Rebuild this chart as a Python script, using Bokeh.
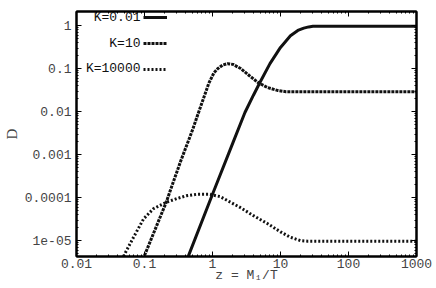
from bokeh.plotting import figure
from bokeh.models import LogAxis, FixedTicker, Range1d, Legend, LegendItem, Label
from bokeh.embed import file_html
from bokeh.resources import INLINE

# ---- data ----
z_k001 = [0.44, 1.0, 2.0, 3.0, 4.0, 5.0, 7.0, 10.0, 14.0, 18.0, 22.0, 26.0, 30.0, 1000.0]
d_k001 = [4.3e-6, 1.2e-4, 1.9e-3, 9.5e-3, 0.024, 0.048, 0.13, 0.31, 0.58, 0.77, 0.87, 0.93, 0.96, 0.96]

z_k10 = [0.1, 0.21, 0.27, 0.34, 0.51, 0.6, 0.7, 0.88, 1.05, 1.2, 1.4, 1.67, 2.0, 2.6, 3.5, 4.7, 6.5, 9.0, 12.0, 1000.0]
d_k10 = [4.5e-6, 8e-5, 2.5e-4, 7e-4, 3.8e-3, 8e-3, 0.016, 0.045, 0.08, 0.1, 0.12, 0.13, 0.125, 0.1, 0.068, 0.047, 0.036, 0.031, 0.029, 0.029]

z_k1e4 = [0.049, 0.069, 0.097, 0.135, 0.21, 0.3, 0.41, 0.6, 0.9, 1.3, 2.6, 4.0, 6.4, 10.0, 13.9, 19.6, 25.0, 1000.0]
d_k1e4 = [4.3e-6, 1.2e-5, 3.2e-5, 5.5e-5, 7.8e-5, 9.5e-5, 1.1e-4, 1.2e-4, 1.2e-4, 1.05e-4, 5.8e-5, 3.8e-5, 2.5e-5, 1.6e-5, 1.2e-5, 1.0e-5, 0.97e-5, 0.97e-5]

series_labels = ["K=0.01", "K=10", "K=10000"]

xtick_vals = [0.01, 0.1, 1, 10, 100, 1000]
xtick_labels = ["0.01", "0.1", "1", "10", "100", "1000"]
ytick_vals = [1e-5, 1e-4, 1e-3, 0.01, 0.1, 1]
ytick_labels = ["1e-05", "0.0001", "0.001", "0.01", "0.1", "1"]

MONO = "Liberation Mono"

p = figure(width=436, height=288, x_axis_type="log", y_axis_type="log",
           x_range=Range1d(0.01, 1000), y_range=Range1d(4.27e-6, 2.12),
           output_backend="svg", toolbar_location=None,
           min_border_left=76, min_border_top=11, min_border_right=20, min_border_bottom=32)
p.xgrid.visible = False
p.ygrid.visible = False
p.outline_line_color = "black"
p.outline_line_width = 2
p.background_fill_color = "white"
p.border_fill_color = "white"

def minors(vals):
    out = []
    for v in vals[:-1]:
        out += [v * k for k in range(2, 10)]
    return out

def style(ax):
    ax.major_tick_in = 5
    ax.major_tick_out = 0
    ax.minor_tick_in = 2
    ax.minor_tick_out = 0
    ax.axis_line_color = "black"
    ax.axis_line_width = 2
    ax.major_tick_line_color = "black"
    ax.minor_tick_line_color = "black"
    ax.major_tick_line_width = 1
    ax.minor_tick_line_width = 1

xa = p.xaxis[0]
xa.ticker = FixedTicker(ticks=xtick_vals, minor_ticks=minors(xtick_vals))
xa.major_label_overrides = dict(zip(xtick_vals, xtick_labels))
xa.major_label_text_font = MONO
xa.major_label_text_font_size = "13px"
xa.major_label_standoff = 2
xa.axis_label = "z = M\u2081/T"
xa.axis_label_text_font = MONO
xa.axis_label_text_font_size = "13px"
xa.axis_label_text_font_style = "normal"
xa.axis_label_standoff = -3
style(xa)

ya = p.yaxis[0]
ya.ticker = FixedTicker(ticks=ytick_vals, minor_ticks=minors([1e-6] + ytick_vals))
ya.major_label_overrides = dict(zip(ytick_vals, ytick_labels))
ya.major_label_text_font = MONO
ya.major_label_text_font_size = "13px"
ya.major_label_standoff = 5
ya.axis_label = "D"
ya.axis_label_text_font = "Liberation Serif"
ya.axis_label_text_font_size = "15px"
ya.axis_label_text_font_style = "normal"
ya.axis_label_standoff = 2
style(ya)

top = LogAxis(ticker=FixedTicker(ticks=xtick_vals, minor_ticks=minors(xtick_vals)),
              major_label_overrides={v: "" for v in xtick_vals},
              major_label_standoff=0)
right = LogAxis(ticker=FixedTicker(ticks=ytick_vals, minor_ticks=minors([1e-6] + ytick_vals)),
                major_label_overrides={v: "" for v in ytick_vals},
                major_label_standoff=0)
style(top)
style(right)
p.add_layout(top, "above")
p.add_layout(right, "right")

r1 = p.line(z_k001, d_k001, line_color="#111111", line_width=3)
r2 = p.line(z_k10, d_k10, line_color="#111111", line_width=3, line_dash="3 1")
r3 = p.line(z_k1e4, d_k1e4, line_color="#111111", line_width=3, line_dash="2 2")

# legend samples (glyph part) to the right of the labels, as in the reference
leg = Legend(items=[LegendItem(label=lab, renderers=[r]) for lab, r in zip(series_labels, (r1, r2, r3))],
             location=(67, 177), padding=0, margin=0, spacing=6,
             glyph_width=24, glyph_height=20, label_height=20,
             label_standoff=2, label_text_font_size="10px", label_text_alpha=0,
             background_fill_alpha=0, border_line_alpha=0)
p.add_layout(leg, "center")

row_y = [239, 213, 188]
for lab, yy in zip(series_labels, row_y):
    p.add_layout(Label(x=64, y=yy, x_units="screen", y_units="screen", text=lab,
                       text_align="right", text_baseline="middle",
                       text_font=MONO, text_font_size="13px", text_color="#111111"))

open("out.html", "w").write(file_html(p, INLINE))
